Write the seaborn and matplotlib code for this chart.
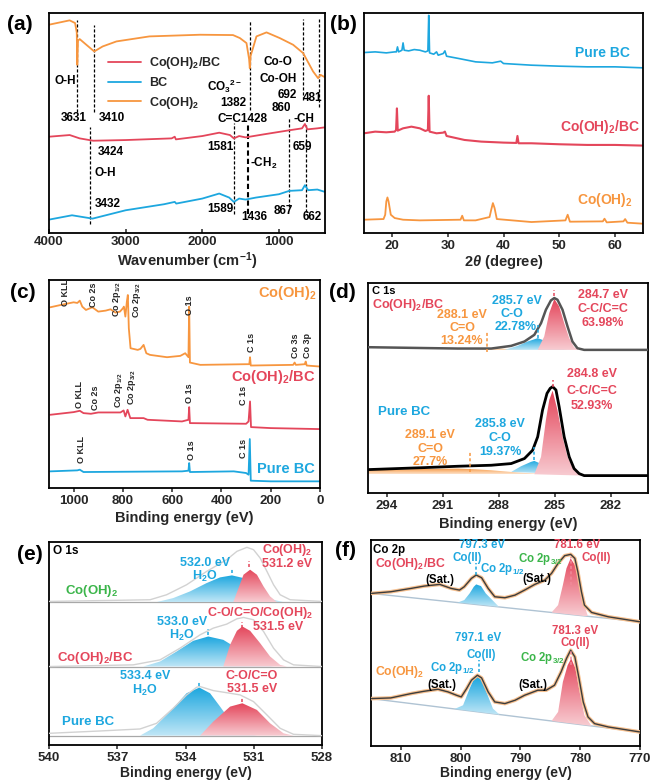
import numpy as np
import matplotlib
matplotlib.use("Agg")
import matplotlib.pyplot as plt
import seaborn as sns
from matplotlib.colors import LinearSegmentedColormap, to_rgb

# ---------------- data (y in arbitrary units) ----------------
# (a) FTIR
ftir_wn_co = [4000, 3731, 3660, 3638, 3631, 3622, 3600, 3513, 3410, 3300, 3120, 2690, 2030, 1600, 1510,
              1424, 1390, 1381, 1370, 1346, 1294, 1163, 990, 816, 685, 555, 490, 458, 402]
ftir_co = [623, 636, 628, 600, 503, 575, 580, 563, 543, 558, 573, 588, 593, 592, 583,
           568, 520, 493, 530, 548, 588, 600, 583, 563, 538, 483, 463, 473, 466]
ftir_wn_cobc = [4000, 3730, 3600, 3424, 3000, 2400, 2360, 2345, 2000, 1780, 1640, 1589, 1520, 1436,
                1200, 900, 700, 662, 630, 500, 402]
ftir_cobc = [288, 293, 283, 276, 278, 283, 288, 280, 290, 300, 293, 283, 290, 286,
             295, 306, 313, 326, 310, 313, 316]
ftir_wn_bc = [4000, 3700, 3432, 3000, 2500, 2360, 2340, 2000, 1780, 1650, 1589, 1520, 1436, 1300,
              1000, 867, 700, 662, 620, 500, 402]
ftir_bc = [40, 53, 43, 68, 86, 93, 88, 103, 118, 106, 93, 103, 100, 106,
           116, 126, 128, 143, 128, 130, 123]
ftir_marks = [3631, 3410, 3460, 1382, 1589, 1410, 868, 685, 477, 650]
ftir_marks_lo = [363, 363, 28, 368, 58, 58, 78, 398, 378, 63]
ftir_marks_hi = [638, 623, 318, 638, 328, 328, 343, 640, 640, 323]

# (b) XRD
xrd_2t_bc = [15, 17, 19, 20.5, 20.8, 21, 21.2, 21.8, 22, 22.2, 23, 24, 25, 26, 26.45, 26.6, 26.75, 27.5,
             28, 28.3, 29.2, 29.5, 29.8, 32, 35, 38, 39.5, 40, 45, 50, 55, 60, 65]
xrd_bc = [543, 545, 542, 545, 545, 560, 545, 550, 572, 550, 548, 552, 550, 545, 548, 655, 542, 538,
          545, 535, 540, 548, 532, 525, 515, 512, 517, 510, 505, 502, 500, 500, 497]
xrd_2t_cobc = [15, 17, 19, 20.5, 20.75, 20.9, 21.05, 22, 23.5, 25, 26, 26.45, 26.6, 26.75, 28, 29.2,
               29.5, 29.8, 33, 36, 40, 42.3, 42.5, 42.7, 45, 50, 55, 60, 65]
xrd_cobc = [300, 305, 303, 305, 310, 375, 308, 315, 320, 315, 307, 310, 413, 305, 300, 302,
            305, 292, 280, 275, 272, 271, 292, 270, 270, 267, 265, 265, 263]
xrd_2t_co = [15, 18.5, 18.8, 19.0, 19.2, 19.4, 19.8, 20.5, 22, 25, 32.3, 32.6, 32.9, 35, 37.5, 37.8,
             38.1, 38.4, 38.8, 45, 51.1, 51.5, 51.9, 57.8, 58.1, 58.5, 61.5, 61.8, 62.2, 65]
xrd_co = [40, 42, 55, 95, 107, 95, 55, 45, 40, 38, 40, 52, 38, 38, 48, 70,
          90, 75, 42, 33, 38, 55, 34, 35, 43, 32, 35, 42, 31, 28]

# (c) XPS survey
sur_be_co = [1095, 1040, 1000, 985, 975, 965, 950, 924, 900, 870, 850, 830, 812, 800, 796, 790, 784,
             780, 776, 769, 740, 729, 716, 705, 690, 621, 567, 547, 534, 531, 528, 486, 300, 287,
             284, 281, 109, 103, 98, 62, 58, 54, 1]
sur_co = [543, 552, 558, 556, 563, 545, 535, 543, 530, 533, 537, 527, 530, 540, 545, 515, 560,
          580, 480, 420, 415, 418, 430, 405, 400, 393, 397, 405, 393, 545, 377, 370, 372, 372,
          393, 368, 370, 377, 370, 372, 380, 368, 365]
sur_be_cobc = [1095, 1000, 975, 960, 930, 900, 810, 797, 790, 781, 770, 716, 700, 560, 534, 531, 528,
               300, 290, 284, 280, 200, 1]
sur_cobc = [220, 228, 232, 225, 223, 227, 227, 233, 215, 235, 210, 210, 205, 200, 205, 243, 195,
            193, 200, 260, 183, 180, 177]
sur_be_bc = [1095, 985, 975, 960, 560, 534, 531, 528, 350, 300, 290, 285, 281, 200, 1]
sur_bc = [50, 53, 55, 48, 50, 52, 75, 48, 50, 45, 40, 147, 22, 20, 20]

# (d) C 1s
c1s_be_top = [295, 290.18, 288.4, 287.33, 286.62, 286.09, 285.73, 285.47, 285.2, 285.02, 284.85,
              284.58, 284.31, 284.05, 283.78, 283.42, 280]
c1s_top = [436, 432, 432, 440, 453, 473, 508, 548, 576, 583, 578, 548, 498, 453, 433, 428, 428]
c1s_top_cc_be = [285.91, 285.56, 285.29, 285.02, 284.76, 284.49, 284.22, 283.96, 283.69]
c1s_top_cc = [428, 468, 538, 580, 558, 508, 463, 436, 428]
c1s_top_co_be = [287.69, 286.98, 286.45, 285.91, 285.56, 285.02, 284.49, 284.13]
c1s_top_co = [428, 440, 453, 463, 456, 440, 430, 428]
c1s_top_cdo_be = [289.29, 288.58, 288.05, 287.33, 286.62]
c1s_top_cdo = [428, 431, 432, 430, 428]
c1s_be_bot = [294.98, 291.95, 290.18, 288.4, 287.33, 286.62, 286.18, 285.91, 285.65, 285.41, 285.24,
              285.11, 284.93, 284.76, 284.49, 284.22, 283.96, 283.69, 283.42, 280.05]
c1s_bot = [70, 76, 80, 83, 88, 103, 128, 168, 248, 298, 313, 318, 308, 258, 168, 108, 73, 58, 52, 52]
c1s_bot_cc_be = [286.09, 285.73, 285.47, 285.29, 285.11, 284.85, 284.58, 284.31, 283.96, 283.6, 283.42]
c1s_bot_cc = [56, 108, 218, 278, 306, 248, 168, 108, 68, 55, 52]
c1s_bot_co_be = [287.33, 286.8, 286.27, 286.09, 285.56, 284.85, 284.13]
c1s_bot_co = [63, 80, 93, 96, 83, 68, 56]
c1s_bot_cdo_be = [295, 295, 291.95, 290.18, 289.3, 288.4, 287.33, 286.62, 285.5, 284.8]
c1s_bot_cdo = [56, 68, 72, 73, 71, 68, 63, 60, 57, 56]
c1s_marks = [285.02, 285.91, 288.61, 285.07, 286.09, 289.52]
c1s_marks_lo = [590, 463, 423, 318, 98, 63]
c1s_marks_hi = [606, 503, 483, 338, 138, 123]

# (e) O 1s
o1s_be_top = [540, 535.56, 534.83, 533.95, 533.07, 532.19, 531.74, 531.3, 531.01, 530.72, 530.42,
              530.13, 529.84, 529.4, 528]
o1s_top = [430, 435, 450, 480, 520, 555, 580, 592, 585, 560, 520, 480, 450, 435, 430]
o1s_top_h2o_be = [535.27, 534.54, 533.8, 533.07, 532.48, 531.96, 531.45, 531.01, 530.57, 530.13, 529.69]
o1s_top_h2o = [428, 440, 460, 485, 502, 508, 500, 480, 455, 435, 428]
o1s_top_oh_be = [531.9, 531.67, 531.45, 531.16, 530.86, 530.57, 530.28, 529.98]
o1s_top_oh = [428, 470, 510, 525, 510, 475, 445, 428]
o1s_be_mid = [540, 536.3, 535.12, 534.24, 533.36, 532.78, 532.19, 531.74, 531.45, 531.01, 530.57,
              530.13, 529.69, 529.25, 528]
o1s_mid = [235, 240, 255, 290, 330, 350, 362, 378, 382, 375, 340, 290, 255, 240, 235]
o1s_mid_h2o_be = [535.86, 535.12, 534.39, 533.66, 533.0, 532.34, 531.74, 531.16, 530.57, 530.13]
o1s_mid_h2o = [235, 250, 280, 312, 325, 315, 290, 260, 240, 235]
o1s_mid_oh_be = [532.34, 532.04, 531.74, 531.5, 531.16, 530.72, 530.28, 529.84, 529.54]
o1s_mid_oh = [235, 300, 342, 355, 342, 305, 265, 240, 235]
o1s_be_bot = [540, 537.76, 536.0, 535.27, 534.54, 533.95, 533.51, 533.36, 532.78, 532.04, 531.6,
              531.01, 530.42, 529.84, 529.25, 528]
o1s_bot = [35, 42, 48, 65, 110, 150, 173, 175, 163, 155, 150, 130, 90, 50, 32, 28]
o1s_bot_h2o_be = [536.0, 535.42, 534.68, 533.95, 533.39, 532.92, 532.48, 531.9, 531.3, 530.86]
o1s_bot_h2o = [28, 50, 100, 155, 172, 155, 115, 60, 35, 28]
o1s_bot_co_be = [533.36, 532.78, 532.04, 531.5, 530.86, 530.28, 529.69, 529.25]
o1s_bot_co = [28, 70, 115, 125, 105, 65, 35, 28]
o1s_base = [428, 235, 28]
o1s_marks = [531.96, 531.2, 533.0, 531.5, 533.39, 531.5]
o1s_marks_lo = [515, 532, 330, 350, 178, 130]
o1s_marks_hi = [530, 550, 348, 368, 192, 145]

# (f) Co 2p
co2p_be_top = [815.0, 811.7, 808.3, 806.1, 803.5, 801.6, 800.2, 799.4, 798.2, 797.4, 796.5, 795.4,
               794.3, 792.6, 790.9, 789.3, 787.6, 785.9, 784.8, 783.7, 782.6, 781.6, 780.9, 780.4,
               779.8, 779.3, 778.1, 775.3, 770.0]
co2p_top = [457, 462, 472, 479, 484, 472, 467, 477, 502, 512, 504, 472, 447, 444, 452, 467, 484, 497,
            517, 547, 570, 574, 562, 522, 462, 422, 400, 387, 372]
co2p_top_bg_be = [815, 770]
co2p_top_bg = [457, 372]
co2p_top_p12_be = [800.47, 799.4, 798.5, 797.8, 797.4, 796.6, 795.8, 794.7, 793.6]
co2p_top_p12 = [430, 437, 457, 477, 484, 479, 457, 437, 417]
co2p_top_p32_be = [784.8, 783.7, 782.9, 782.3, 781.6, 780.9, 780.2, 779.5, 778.7]
co2p_top_p32 = [400, 422, 482, 532, 562, 542, 492, 432, 388]
co2p_be_bot = [815.0, 811.7, 808.3, 806.1, 803.8, 802.1, 800.7, 799.9, 799.0, 798.2, 797.2, 796.5,
               795.4, 794.3, 792.6, 790.9, 789.3, 787.1, 785.7, 784.3, 783.2, 782.3, 781.6, 780.9,
               780.2, 779.5, 778.7, 777.6, 775.3, 770.0]
co2p_bot = [142, 144, 157, 164, 170, 162, 152, 147, 172, 197, 212, 204, 162, 132, 127, 137, 152, 167,
            167, 182, 222, 262, 287, 267, 202, 132, 87, 67, 57, 42]
co2p_bot_bg_be = [815, 770]
co2p_bot_bg = [142, 42]
co2p_bot_p12_be = [801.0, 799.6, 798.5, 797.7, 797.2, 796.5, 795.7, 794.6, 793.5]
co2p_bot_p12 = [111, 122, 172, 204, 207, 200, 162, 112, 94]
co2p_bot_p32_be = [784.8, 783.7, 782.9, 782.1, 781.5, 780.8, 780.1, 779.3, 778.1]
co2p_bot_p32 = [75, 102, 192, 242, 262, 232, 162, 92, 60]
co2p_marks = [797.4, 781.6, 796.9, 781.5]
co2p_marks_lo = [512, 482, 222, 242]
co2p_marks_hi = [547, 567, 257, 292]

# ---------------- style ----------------
ORANGE = "#F7963F"
RED = "#E4465B"
BLUE = "#1DA7DF"
GREEN = "#3BB54A"

sns.set_style("ticks")
plt.rcParams["font.family"] = ["Liberation Sans", "DejaVu Sans"]
plt.rcParams["font.weight"] = "bold"
plt.rcParams["axes.labelweight"] = "bold"
plt.rcParams["mathtext.fontset"] = "custom"
plt.rcParams["mathtext.rm"] = "Liberation Sans:bold"
plt.rcParams["mathtext.it"] = "Liberation Sans:italic:bold"
plt.rcParams["mathtext.bf"] = "Liberation Sans:bold"
plt.rcParams["mathtext.fallback"] = "stixsans"

W, H = 655, 782
fig = plt.figure(figsize=(W / 100, H / 100), dpi=100)


def add_ax(l, t, r, b):
    ax = fig.add_axes([l / W, 1 - b / H, (r - l) / W, (b - t) / H])
    ax.set_yticks([])
    for s in ax.spines.values():
        s.set_linewidth(1.3)
        s.set_color("black")
    ax.tick_params(axis="x", direction="out", length=3, width=1.1, labelsize=9.5, pad=2)
    return ax


def labels(ax, box, xl, yl, xy_px, yl_px, xsize=10.5, ysize=10.5):
    l, t, r, b = box
    ax.set_xlabel(xl, fontsize=xsize, va="center")
    ax.xaxis.set_label_coords(0.5, -(xy_px - b) / (b - t))
    ax.set_ylabel(yl, fontsize=ysize, va="center")
    ax.yaxis.set_label_coords((yl_px[0] - l) / (r - l), (b - yl_px[1]) / (b - t))


def put(x, y, s, color="black", size=8.5, ha="center", **kw):
    fig.text(x / W, 1 - y / H, s, color=color, fontsize=size, ha=ha, va="center",
             fontweight="bold", **kw)


def lighten(c, f):
    rgb = np.array(to_rgb(c))
    return tuple(rgb + (1 - rgb) * f)


def grad_fill(ax, xs, ys, color, z=2, f=0.72):
    poly = ax.fill(xs, ys, facecolor="none", edgecolor="none")[0]
    cmap = LinearSegmentedColormap.from_list("g", [lighten(color, f), color])
    im = ax.imshow(np.linspace(0, 1, 64).reshape(-1, 1),
                   extent=[min(xs), max(xs), min(ys), max(ys)],
                   origin="lower", aspect="auto", cmap=cmap, zorder=z)
    im.set_clip_path(poly)


def line(ax, xs, ys, color, lw=1.3, **kw):
    sns.lineplot(x=xs, y=ys, ax=ax, color=color, lw=lw, sort=False, estimator=None, **kw)


# ---------------- (a) FTIR ----------------
box_a = (49, 13, 325, 233)
ax = add_ax(*box_a)
line(ax, ftir_wn_cobc, ftir_cobc, RED, label="Co(OH)$_2$/BC")
line(ax, ftir_wn_bc, ftir_bc, BLUE, label="BC")
line(ax, ftir_wn_co, ftir_co, ORANGE, label="Co(OH)$_2$")
for xm, lo, hi in zip(ftir_marks, ftir_marks_lo, ftir_marks_hi):
    ax.plot([xm, xm], [lo, hi], color="black", lw=1.5 if xm == 1410 else 0.9,
            ls=(0, (2.5, 1.5)), zorder=1)
ax.legend(loc="upper left", bbox_to_anchor=(0.196, 0.83), frameon=False, fontsize=9,
          handlelength=2.6, labelspacing=0.45, borderaxespad=0, handletextpad=0.7)
ax.set_xlim(4000, 400)
ax.set_ylim(0, 658)
ax.set_xticks([4000, 3000, 2000, 1000])
ax.tick_params(axis="x", direction="in")
labels(ax, box_a, "Wavenumber (cm$^{-1}$)", "Transmittance (a.u.)", 261, (27, 137), 10.5, 11)
for x, y, s in [(65, 81, "O-H"), (74, 118, "3631"), (112, 118, "3410"), (111, 152, "3424"),
                (105, 173, "O-H"), (108, 204, "3432"), (225, 86, "CO$_3$$^{2-}$"), (233, 103, "1382"),
                (243, 119, "C=C1428"), (220, 147, "1581"), (264, 163, "-CH$_2$"), (220, 209, "1589"),
                (254, 217, "1436"), (283, 211, "867"), (312, 217, "662"), (278, 62, "Co-O"),
                (278, 79, "Co-OH"), (287, 95, "692"), (313, 98, "481"), (281, 108, "860"),
                (304, 119, "-CH"), (302, 147, "659")]:
    put(x, y, s, size=8.5)

# ---------------- (b) XRD ----------------
box_b = (364, 13, 643, 233)
ax = add_ax(*box_b)
line(ax, xrd_2t_bc, xrd_bc, BLUE, lw=1.2)
line(ax, xrd_2t_cobc, xrd_cobc, RED, lw=1.5)
line(ax, xrd_2t_co, xrd_co, ORANGE, lw=1.3)
ax.set_xlim(15, 65)
ax.set_ylim(0, 662)
ax.set_xticks([20, 30, 40, 50, 60])
labels(ax, box_b, r"2$\theta$ (degree)", "Intensity (a.u.)", 262, (344, 111), 10.5, 10)
put(630, 53, "Pure BC", BLUE, 10, ha="right")
put(640, 127, "Co(OH)$_2$/BC", RED, 10, ha="right")
put(633, 200, "Co(OH)$_2$", ORANGE, 10, ha="right")

# ---------------- (c) XPS survey ----------------
box_c = (49, 280, 320, 488)
ax = add_ax(*box_c)
line(ax, sur_be_co, sur_co, ORANGE, lw=1.3)
line(ax, sur_be_cobc, sur_cobc, RED, lw=1.3)
line(ax, sur_be_bc, sur_bc, BLUE, lw=1.3)
ax.set_xlim(1100, 0)
ax.set_ylim(0, 625)
ax.set_xticks([1000, 800, 600, 400, 200, 0])
labels(ax, box_c, "Binding energy (eV)", "Intensity (a.u.)", 518, (27, 377), 10.5, 10)
for x, y, s in [(65, 306, "O KLL"), (93, 307, "Co 2s"), (117, 317, "Co 2p$_{1/2}$"),
                (137, 318, "Co 2p$_{3/2}$"), (189, 315, "O 1s"), (251, 352, "C 1s"),
                (295, 358, "Co 3s"), (308, 358, "Co 3p"),
                (80, 408, "O KLL"), (95, 410, "Co 2s"), (119, 408, "Co 2p$_{1/2}$"),
                (132, 405, "Co 2p$_{3/2}$"), (189, 403, "O 1s"), (244, 405, "C 1s"),
                (82, 463, "O KLL"), (191, 460, "O 1s"), (243, 458, "C 1s")]:
    fig.text(x / W, 1 - y / H, s, rotation=90, fontsize=6.5, ha="center", va="bottom",
             fontweight="bold")
put(317, 293, "Co(OH)$_2$", ORANGE, 10.5, ha="right")
put(315, 377, "Co(OH)$_2$/BC", RED, 10.5, ha="right")
put(315, 469, "Pure BC", BLUE, 10.5, ha="right")

# ---------------- (d) C 1s ----------------
box_d = (368, 283, 648, 493)
ax = add_ax(*box_d)
grad_fill(ax, c1s_top_cdo_be, c1s_top_cdo, ORANGE)
grad_fill(ax, c1s_top_co_be, c1s_top_co, BLUE)
grad_fill(ax, c1s_top_cc_be, c1s_top_cc, RED)
grad_fill(ax, c1s_bot_cdo_be, c1s_bot_cdo, ORANGE)
grad_fill(ax, c1s_bot_co_be, c1s_bot_co, BLUE)
grad_fill(ax, c1s_bot_cc_be, c1s_bot_cc, RED)
line(ax, c1s_be_top, c1s_top, "#555555", lw=1.8, zorder=3)
line(ax, c1s_be_bot, c1s_bot, "black", lw=2.0, zorder=3)
for xm, lo, hi, c in zip(c1s_marks, c1s_marks_lo, c1s_marks_hi,
                         [RED, BLUE, ORANGE, RED, BLUE, ORANGE]):
    ax.plot([xm, xm], [lo, hi], color=c, lw=1.1, ls=(0, (2, 1.5)), zorder=4)
ax.set_xlim(295, 280)
ax.set_ylim(0, 628)
ax.set_xticks([294, 291, 288, 285, 282])
labels(ax, box_d, "Binding energy (eV)", "Intensity (a.u.)", 524, (346, 383), 10.5, 10)
put(372, 291, "C 1s", size=8, ha="left")
put(372, 305, "Co(OH)$_2$/BC", RED, 9, ha="left")
for x, y, s, c in [(462, 315, "288.1 eV", ORANGE), (462, 328, "C=O", ORANGE), (462, 341, "13.24%", ORANGE),
                   (517, 301, "285.7 eV", BLUE), (512, 314, "C-O", BLUE), (516, 327, "22.78%", BLUE),
                   (603, 295, "284.7 eV", RED), (603, 309, "C-C/C=C", RED), (603, 323, "63.98%", RED),
                   (592, 374, "284.8 eV", RED), (592, 391, "C-C/C=C", RED), (592, 406, "52.93%", RED),
                   (430, 435, "289.1 eV", ORANGE), (430, 449, "C=O", ORANGE), (430, 462, "27.7%", ORANGE),
                   (500, 424, "285.8 eV", BLUE), (500, 438, "C-O", BLUE), (500, 452, "19.37%", BLUE)]:
    put(x, y, s, c, 9)
put(378, 412, "Pure BC", BLUE, 9.5, ha="left")

# ---------------- (e) O 1s ----------------
box_e = (49, 542, 322, 745)
ax = add_ax(*box_e)
for yb in o1s_base:
    ax.axhline(yb, color="#A8A8A8", lw=0.9, zorder=1)
grad_fill(ax, o1s_top_h2o_be, o1s_top_h2o, BLUE)
grad_fill(ax, o1s_top_oh_be, o1s_top_oh, RED)
grad_fill(ax, o1s_mid_h2o_be, o1s_mid_h2o, BLUE)
grad_fill(ax, o1s_mid_oh_be, o1s_mid_oh, RED)
grad_fill(ax, o1s_bot_h2o_be, o1s_bot_h2o, BLUE)
grad_fill(ax, o1s_bot_co_be, o1s_bot_co, RED)
line(ax, o1s_be_top, o1s_top, "#D2D2D2", lw=1.0, zorder=3)
line(ax, o1s_be_mid, o1s_mid, "#D2D2D2", lw=1.0, zorder=3)
line(ax, o1s_be_bot, o1s_bot, "#D2D2D2", lw=1.0, zorder=3)
for xm, lo, hi, c in zip(o1s_marks, o1s_marks_lo, o1s_marks_hi, [BLUE, RED] * 3):
    ax.plot([xm, xm], [lo, hi], color=c, lw=1.1, ls=(0, (2, 1.5)), zorder=4)
ax.set_xlim(540, 528)
ax.set_ylim(0, 608)
ax.set_xticks([540, 537, 534, 531, 528])
labels(ax, box_e, "Binding energy (eV)", "Intensity (a.u.)", 773, (34, 643), 10, 9)
put(53, 551, "O 1s", size=8.5, ha="left")
for x, y, s, c in [(205, 563, "532.0 eV", BLUE), (205, 576, "H$_2$O", BLUE),
                   (287, 550, "Co(OH)$_2$", RED), (287, 564, "531.2 eV", RED),
                   (260, 613, "C-O/C=O/Co(OH)$_2$", RED), (278, 627, "531.5 eV", RED),
                   (182, 622, "533.0 eV", BLUE), (182, 635, "H$_2$O", BLUE),
                   (145, 676, "533.4 eV", BLUE), (145, 690, "H$_2$O", BLUE),
                   (252, 676, "C-O/C=O", RED), (252, 689, "531.5 eV", RED)]:
    put(x, y, s, c, 9)
put(65, 591, "Co(OH)$_2$", GREEN, 9.5, ha="left")
put(57, 658, "Co(OH)$_2$/BC", RED, 9.5, ha="left")
put(62, 722, "Pure BC", BLUE, 9.5, ha="left")

# ---------------- (f) Co 2p ----------------
box_f = (371, 540, 640, 746)
ax = add_ax(*box_f)
line(ax, co2p_top_bg_be, co2p_top_bg, "#AFC3D3", lw=1.0, zorder=1)
line(ax, co2p_bot_bg_be, co2p_bot_bg, "#AFC3D3", lw=1.0, zorder=1)
grad_fill(ax, co2p_top_p12_be, co2p_top_p12, BLUE)
grad_fill(ax, co2p_top_p32_be, co2p_top_p32, RED)
grad_fill(ax, co2p_bot_p12_be, co2p_bot_p12, BLUE)
grad_fill(ax, co2p_bot_p32_be, co2p_bot_p32, RED)
line(ax, co2p_be_top, co2p_top, "#F6C08F", lw=2.6, zorder=3)
line(ax, co2p_be_bot, co2p_bot, "#F6C08F", lw=2.6, zorder=3)
line(ax, co2p_be_top, co2p_top, "#3C3C3C", lw=1.0, zorder=4)
line(ax, co2p_be_bot, co2p_bot, "#3C3C3C", lw=1.0, zorder=4)
for xm, lo, hi, c in zip(co2p_marks, co2p_marks_lo, co2p_marks_hi,
                         [BLUE, "#F08A9A", BLUE, "#F08A9A"]):
    ax.plot([xm, xm], [lo, hi], color=c, lw=1.1, ls=(0, (2, 1.5)), zorder=5)
ax.set_xlim(815, 770)
ax.set_ylim(0, 617)
ax.set_xticks([810, 800, 790, 780, 770])
labels(ax, box_f, "Binding energy (eV)", "Intensity (a.u.)", 773, (354, 636), 10, 9)
put(373, 550, "Co 2p", size=8.3, ha="left")
put(375, 564, "Co(OH)$_2$/BC", RED, 8.8, ha="left")
put(375, 672, "Co(OH)$_2$", ORANGE, 8.8, ha="left")
for x, y, s, c in [(440, 580, "(Sat.)", "black"), (537, 579, "(Sat.)", "black"),
                   (482, 545, "797.3 eV", BLUE), (467, 558, "Co(II)", BLUE),
                   (502, 569, "Co 2p$_{1/2}$", BLUE), (540, 559, "Co 2p$_{3/2}$", GREEN),
                   (577, 545, "781.6 eV", RED), (596, 558, "Co(II)", RED),
                   (478, 638, "797.1 eV", BLUE), (481, 655, "Co(II)", BLUE),
                   (575, 631, "781.3 eV", RED), (575, 643, "Co(II)", RED),
                   (452, 668, "Co 2p$_{1/2}$", BLUE), (442, 685, "(Sat.)", "black"),
                   (533, 685, "(Sat.)", "black"), (542, 658, "Co 2p$_{3/2}$", GREEN)]:
    put(x, y, s, c, 8.3)

# panel letters
for x, y, s in [(20, 24, "(a)"), (343, 24, "(b)"), (23, 292, "(c)"), (342, 293, "(d)"),
                (30, 554, "(e)"), (346, 550, "(f)")]:
    put(x, y, s, size=15)

fig.savefig("out.png", dpi=100)
